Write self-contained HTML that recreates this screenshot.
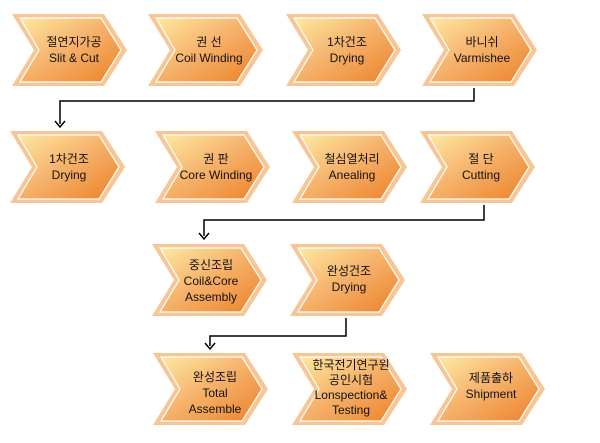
<!DOCTYPE html>
<html><head><meta charset="utf-8"><style>
body{margin:0;background:#fff}
svg text{font-family:"Liberation Sans","Noto Sans CJK KR",sans-serif;font-size:12px;fill:#111;text-anchor:middle}
</style></head><body>
<svg width="600" height="438" viewBox="0 0 600 438" xmlns="http://www.w3.org/2000/svg">
<defs>
<linearGradient id="g" x1="0" y1="0" x2="1" y2="1">
<stop offset="0" stop-color="#fde9a0"/><stop offset="0.45" stop-color="#f6b46e"/><stop offset="1" stop-color="#ec8128"/>
</linearGradient>
<symbol id="c" width="116" height="73" viewBox="0 0 116 73">
<polygon points="0,0 92,0 115,36 92,72 0,72 22,36" fill="#f8c595"/>
<polygon points="8,4 89,4 109,36 89,68 8,68 27,36" fill="url(#g)" stroke="#fff" stroke-width="1.2"/>
</symbol>
</defs>
<g fill="none" stroke="#000" stroke-width="1.5">
<path d="M474 88V101H60V124"/><path d="M55 121l5 6 5-6"/>
<path d="M484 205V220H204V236"/><path d="M199 233l5 6 5-6"/>
<path d="M346 318V336H210V346"/><path d="M205 343l5 6 5-6"/>
</g>
<use href="#c" x="12" y="14"/><use href="#c" x="148" y="14"/><use href="#c" x="286" y="14"/><use href="#c" x="422" y="14"/>
<use href="#c" x="10" y="131"/><use href="#c" x="155" y="131"/><use href="#c" x="292" y="131"/><use href="#c" x="420" y="131"/>
<use href="#c" x="152" y="244"/><use href="#c" x="290" y="244"/>
<use href="#c" x="153" y="353"/><use href="#c" x="292" y="353"/><use href="#c" x="430" y="353"/>
<text x="74" y="46">절연지가공</text><text x="74" y="62">Slit &amp; Cut</text>
<text x="209" y="46">권 선</text><text x="209" y="62">Coil Winding</text>
<text x="347" y="46">1차건조</text><text x="347" y="62">Drying</text>
<text x="482" y="46">바니쉬</text><text x="482" y="62">Varmishee</text>
<text x="69" y="163">1차건조</text><text x="69" y="179">Drying</text>
<text x="216" y="163">권 판</text><text x="216" y="179">Core Winding</text>
<text x="352" y="163">철심열처리</text><text x="352" y="179">Anealing</text>
<text x="481" y="163">절 단</text><text x="481" y="179">Cutting</text>
<text x="211" y="269">중신조립</text><text x="211" y="285">Coil&amp;Core</text><text x="211" y="301">Assembly</text>
<text x="349" y="275">완성건조</text><text x="349" y="291">Drying</text>
<text x="215" y="381">완성조립</text><text x="215" y="397">Total</text><text x="215" y="413">Assemble</text>
<text x="351" y="369">한국전기연구원</text><text x="351" y="384">공인시험</text><text x="351" y="399">Lonspection&amp;</text><text x="351" y="414">Testing</text>
<text x="491" y="382">제품출하</text><text x="491" y="398">Shipment</text>
</svg>
</body></html>
